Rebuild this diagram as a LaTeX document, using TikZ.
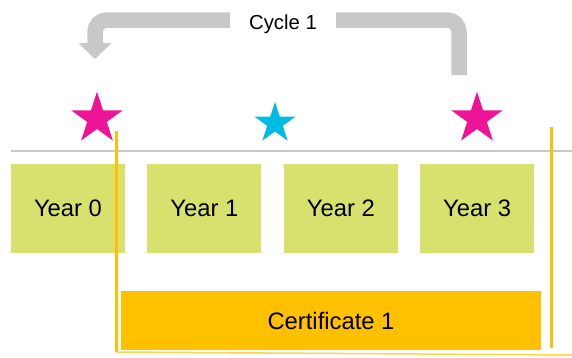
\documentclass[tikz,border=0pt]{standalone}
\usepackage{fontspec}
\setmainfont{Liberation Sans}
\usetikzlibrary{shapes.geometric,arrows.meta}
\definecolor{yeargreen}{RGB}{215,226,110}
\definecolor{certorange}{RGB}{255,192,0}
\definecolor{starpink}{RGB}{238,20,152}
\definecolor{starcyan}{RGB}{0,188,226}
\definecolor{cyclegray}{RGB}{200,200,200}

\tikzset{
  yearbox/.style={fill=yeargreen, inner sep=0pt, minimum width=114pt, minimum height=89pt,
    font=\fontsize{23.8}{27}\selectfont},
  certbox/.style={fill=certorange, inner sep=0pt, minimum width=420pt, minimum height=59pt,
    font=\fontsize{23.8}{27}\selectfont},
  bigstar/.style={star, star points=5, star point ratio=2.618, inner sep=0pt, fill=starpink, minimum size=54pt},
  smallstar/.style={bigstar, fill=starcyan, minimum size=43pt},
  cyclearrow/.style={draw=cyclegray, line width=15.5pt, rounded corners=12pt},
  bracketline/.style={draw=certorange, line width=2.5pt}
}

\begin{document}
\begin{tikzpicture}[x=1pt, y=-1pt]
\useasboundingbox (0,0) rectangle (572,357);

% time line
\coordinate (lineL) at (11,151);
\coordinate (lineR) at (572,151);
\draw[cyclegray, line width=2.5pt] (lineL) -- (lineR);

% the four years
\foreach \i in {0,...,3} {
    \node[yearbox] (y\i) at ({68+136.4*\i},208.5) {Year \i};
}

% certificate
\node[certbox] (cert) at (331,320.5) {Certificate 1};

% stars
\node[bigstar] (s0) at (97,118.7) {};
\node[smallstar] (s1) at (275,123.3) {};
\node[bigstar] (s3) at (477,118.7) {};

% bracket of the certificate
\coordinate (bTL) at (116.5,131);
\coordinate (bBL) at (116.5,352);
\coordinate (bTR) at (551.7,127);
\coordinate (bBR) at (551.7,348);
\coordinate (bEnd) at (572,355);
\draw[bracketline] (bTL) -- (bBL);
\draw[bracketline] (bTR) -- (bBR);
\draw[certorange!70, line width=1.5pt] (bBL) -- (bEnd);

% cycle arrow
\node[font=\fontsize{20.3}{24}\selectfont] (cyc) at (283,24) {Cycle 1};
\coordinate (cycFrom) at (459,75);
\coordinate (cycR) at (336,20);
\coordinate (cycL) at (230,20);
\coordinate (cycTip) at (95,59);
\draw[cyclearrow] (cycFrom) |- (cycR);
\draw[cyclearrow, -{Triangle[width=32pt,length=16pt]}, cyclegray] (cycL) -| (cycTip);

\end{tikzpicture}
\end{document}
